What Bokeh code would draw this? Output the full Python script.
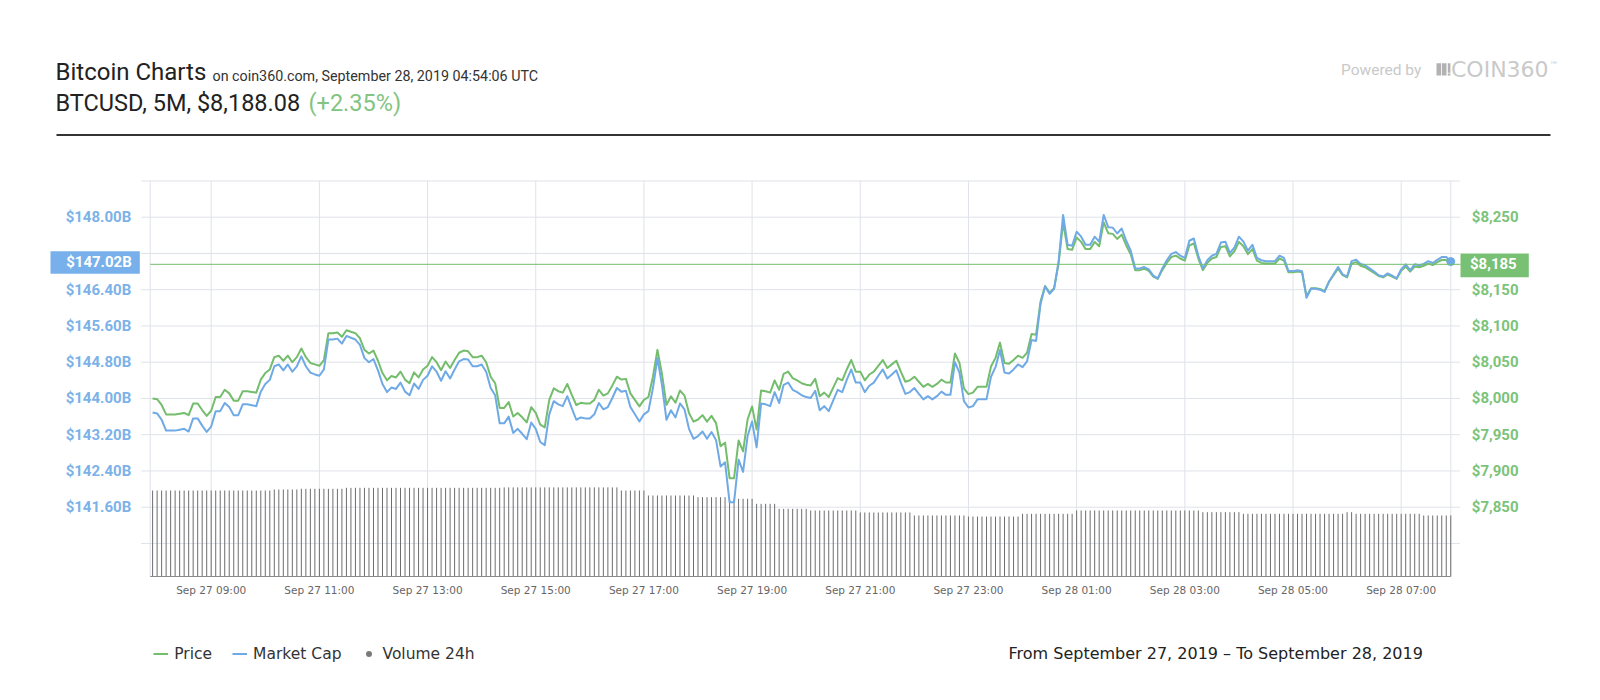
import pandas as pd
from bokeh.plotting import figure
from bokeh.models import (Range1d, Label, BoxAnnotation, Legend, LegendItem,
                          ColumnDataSource)
from bokeh.embed import file_html
from bokeh.resources import INLINE

# ------------------------------------------------------------------ data
first_time = "2019-09-27 07:55"
sample_step = "5min"

price = [
    8000, 7999, 7991, 7978, 7978, 7978, 7979, 7980, 7977, 7993, 7993, 7984,
    7976, 7983, 8002, 8002, 8012, 8007, 7997, 7997, 8010, 8010, 8009, 8008,
    8026, 8035, 8040, 8057, 8059, 8052, 8059, 8050, 8057, 8069, 8057, 8049,
    8047, 8045, 8053, 8090, 8090, 8091, 8085, 8094, 8092, 8090, 8083, 8067,
    8062, 8066, 8052, 8035, 8025, 8031, 8029, 8037, 8026, 8021, 8036, 8029,
    8040, 8045, 8057, 8050, 8039, 8051, 8042, 8053, 8063, 8066, 8065, 8057,
    8057, 8059, 8050, 8030, 8021, 7987, 7987, 7995, 7975, 7980, 7974, 7967,
    7988, 7980, 7964, 7960, 7998, 8014, 8010, 8008, 8020, 8005, 7991, 7994,
    7993, 7993, 7998, 8012, 8004, 8007, 8018, 8030, 8026, 8027, 8007, 7998,
    7989, 7998, 8002, 8030, 8067, 8034, 7991, 8003, 7994, 8011, 8004, 7980,
    7968, 7971, 7977, 7968, 7976, 7966, 7934, 7939, 7890, 7890, 7942, 7927,
    7971, 7989, 7957, 8011, 8010, 8008, 8025, 8012, 8034, 8037, 8028, 8025,
    8021, 8019, 8018, 8027, 8003, 8008, 8002, 8015, 8028, 8025, 8040, 8053,
    8037, 8037, 8025, 8033, 8037, 8045, 8053, 8042, 8047, 8052, 8037, 8023,
    8025, 8030, 8023, 8016, 8020, 8016, 8020, 8026, 8022, 8022, 8062, 8049,
    8014, 8006, 8008, 8016, 8016, 8016, 8044, 8056, 8077, 8049, 8048, 8053,
    8059, 8056, 8063, 8089, 8088, 8134, 8155, 8146, 8152, 8186, 8243, 8206,
    8205, 8222, 8216, 8206, 8206, 8216, 8210, 8243, 8228, 8227, 8220, 8226,
    8211, 8199, 8177, 8177, 8179, 8176, 8168, 8165, 8177, 8187, 8195, 8197,
    8193, 8190, 8211, 8214, 8193, 8177, 8187, 8193, 8195, 8209, 8210, 8196,
    8203, 8216, 8210, 8199, 8206, 8190, 8187, 8186, 8186, 8186, 8193, 8190,
    8174, 8174, 8175, 8174, 8141, 8152, 8152, 8151, 8148, 8161, 8170, 8179,
    8170, 8167, 8186, 8188, 8183, 8181, 8177, 8173, 8169, 8167, 8171, 8168,
    8165, 8176, 8182, 8175, 8182, 8181, 8183, 8186, 8184, 8188, 8191, 8191, 8185,
]

market_cap_b = [
    143.69, 143.67, 143.53, 143.29, 143.29, 143.29, 143.31, 143.33, 143.27, 143.56, 143.56, 143.40,
    143.26, 143.38, 143.72, 143.72, 143.90, 143.81, 143.63, 143.63, 143.87, 143.87, 143.85, 143.83,
    144.15, 144.32, 144.41, 144.71, 144.75, 144.62, 144.75, 144.59, 144.71, 144.93, 144.71, 144.57,
    144.53, 144.50, 144.64, 145.30, 145.30, 145.32, 145.21, 145.38, 145.34, 145.30, 145.18, 144.89,
    144.80, 144.87, 144.62, 144.32, 144.14, 144.24, 144.21, 144.35, 144.15, 144.07, 144.33, 144.21,
    144.41, 144.50, 144.71, 144.59, 144.39, 144.60, 144.44, 144.64, 144.82, 144.87, 144.86, 144.71,
    144.71, 144.75, 144.59, 144.23, 144.07, 143.45, 143.45, 143.60, 143.24, 143.33, 143.22, 143.10,
    143.47, 143.33, 143.04, 142.97, 143.65, 143.94, 143.87, 143.83, 144.05, 143.78, 143.53, 143.58,
    143.56, 143.56, 143.65, 143.90, 143.76, 143.81, 144.01, 144.23, 144.15, 144.17, 143.81, 143.65,
    143.49, 143.65, 143.72, 144.23, 144.89, 144.30, 143.53, 143.74, 143.58, 143.89, 143.76, 143.33,
    143.11, 143.17, 143.27, 143.11, 143.26, 143.08, 142.50, 142.59, 141.71, 141.71, 142.65, 142.38,
    143.17, 143.49, 142.92, 143.89, 143.87, 143.83, 144.14, 143.90, 144.30, 144.35, 144.19, 144.14,
    144.07, 144.03, 144.01, 144.17, 143.74, 143.83, 143.72, 143.96, 144.19, 144.14, 144.41, 144.64,
    144.35, 144.35, 144.14, 144.28, 144.35, 144.50, 144.64, 144.44, 144.53, 144.62, 144.35, 144.10,
    144.14, 144.23, 144.10, 143.98, 144.05, 143.98, 144.05, 144.15, 144.08, 144.08, 144.80, 144.57,
    143.94, 143.80, 143.83, 143.98, 143.98, 143.98, 144.48, 144.69, 145.07, 144.57, 144.55, 144.64,
    144.75, 144.69, 144.82, 145.29, 145.27, 146.09, 146.47, 146.31, 146.42, 147.03, 148.05, 147.39,
    147.37, 147.68, 147.57, 147.39, 147.39, 147.57, 147.46, 148.05, 147.78, 147.77, 147.64, 147.75,
    147.48, 147.26, 146.87, 146.87, 146.90, 146.85, 146.71, 146.65, 146.87, 147.05, 147.19, 147.23,
    147.15, 147.10, 147.48, 147.53, 147.15, 146.87, 147.05, 147.15, 147.19, 147.44, 147.46, 147.21,
    147.33, 147.57, 147.46, 147.26, 147.39, 147.10, 147.05, 147.03, 147.03, 147.03, 147.15, 147.10,
    146.81, 146.81, 146.83, 146.81, 146.22, 146.42, 146.42, 146.40, 146.35, 146.58, 146.74, 146.90,
    146.74, 146.69, 147.03, 147.06, 146.97, 146.94, 146.87, 146.80, 146.72, 146.69, 146.76, 146.71,
    146.65, 146.85, 146.96, 146.83, 146.96, 146.94, 146.97, 147.03, 146.99, 147.06, 147.12, 147.12, 147.02,
]

volume_24h_b = [
    14.33, 14.33, 14.33, 14.33, 14.33, 14.33, 14.33, 14.33, 14.33, 14.33, 14.33, 14.33, 14.33, 14.33,
    14.33, 14.33, 14.33, 14.33, 14.33, 14.33, 14.33, 14.33, 14.33, 14.33, 14.33, 14.33, 14.33,
    14.50, 14.50, 14.50, 14.50, 14.50, 14.50,
    14.62, 14.62, 14.62, 14.62, 14.62, 14.62, 14.62, 14.62, 14.62, 14.62,
    14.78, 14.78, 14.78, 14.78, 14.78, 14.78, 14.78, 14.78, 14.78, 14.78, 14.78, 14.78,
    14.78, 14.78, 14.78, 14.78, 14.78, 14.78, 14.78, 14.78, 14.78, 14.78, 14.78, 14.78,
    14.78, 14.78, 14.78, 14.78, 14.78, 14.78, 14.78, 14.78, 14.78, 14.78, 14.78,
    14.85, 14.85, 14.85, 14.85, 14.85, 14.85, 14.85, 14.85, 14.85, 14.85, 14.85, 14.85, 14.85,
    14.85, 14.85, 14.85, 14.85, 14.85, 14.85, 14.85, 14.85, 14.85, 14.85, 14.85, 14.85, 14.85,
    14.33, 14.33, 14.33, 14.33, 14.33, 14.33,
    13.50, 13.50, 13.50, 13.50, 13.50, 13.50, 13.50, 13.50, 13.50, 13.50, 13.50,
    13.22, 13.22, 13.22, 13.22, 13.22, 13.22, 13.22,
    12.95, 12.95, 12.95, 12.95, 12.95, 12.95,
    12.11, 12.11, 12.11, 12.11, 12.11,
    11.28, 11.28, 11.28, 11.28, 11.28, 11.28, 11.28,
    11.00, 11.00, 11.00, 11.00, 11.00, 11.00, 11.00, 11.00, 11.00, 11.00, 11.00,
    10.67, 10.67, 10.67, 10.67, 10.67, 10.67, 10.67, 10.67, 10.67, 10.67, 10.67, 10.67,
    10.17, 10.17, 10.17, 10.17, 10.17, 10.17, 10.17, 10.17, 10.17, 10.17, 10.17, 10.17,
    10.00, 10.00, 10.00, 10.00, 10.00, 10.00, 10.00, 10.00, 10.00, 10.00, 10.00, 10.00,
    10.45, 10.45, 10.45, 10.45, 10.45, 10.45, 10.45, 10.45, 10.45, 10.45, 10.45, 10.45,
    11.00, 11.00, 11.00, 11.00, 11.00, 11.00, 11.00, 11.00, 11.00, 11.00, 11.00, 11.00, 11.00, 11.00,
    11.00, 11.00, 11.00, 11.00, 11.00, 11.00, 11.00, 11.00, 11.00, 11.00, 11.00, 11.00, 11.00, 11.00,
    10.72, 10.72, 10.72, 10.72, 10.72, 10.72, 10.72, 10.72, 10.72,
    10.45, 10.45, 10.45, 10.45, 10.45, 10.45, 10.45, 10.45, 10.45, 10.45, 10.45, 10.45,
    10.45, 10.45, 10.45, 10.45, 10.45, 10.45, 10.45, 10.45, 10.45, 10.45, 10.45,
    10.72, 10.72,
    10.45, 10.45, 10.45, 10.45, 10.45, 10.45, 10.45, 10.45, 10.45, 10.45, 10.45, 10.45, 10.45, 10.45, 10.45,
    10.17, 10.17, 10.17, 10.17, 10.17, 10.17, 10.17,
]

x_tick_labels = ["Sep 27 09:00", "Sep 27 11:00", "Sep 27 13:00", "Sep 27 15:00",
                 "Sep 27 17:00", "Sep 27 19:00", "Sep 27 21:00", "Sep 27 23:00",
                 "Sep 28 01:00", "Sep 28 03:00", "Sep 28 05:00", "Sep 28 07:00"]
mc_ticks = [140.8, 141.6, 142.4, 143.2, 144.0, 144.8, 145.6, 146.4, 147.2, 148.0, 148.8]
mc_tick_labels = ["", "$141.60B", "$142.40B", "$143.20B", "$144.00B", "$144.80B",
                  "$145.60B", "$146.40B", "", "$148.00B", ""]
price_ticks = [7800, 7850, 7900, 7950, 8000, 8050, 8100, 8150, 8200, 8250, 8300]
price_tick_labels = ["", "$7,850", "$7,900", "$7,950", "$8,000", "$8,050",
                     "$8,100", "$8,150", "", "$8,250", ""]
current_price = 8185
current_price_text = "$8,185"
current_mc = 147.02
current_mc_text = "$147.02B"

title_text = "Bitcoin Charts"
subtitle_text = "on coin360.com, September 28, 2019 04:54:06 UTC"
pair_text = "BTCUSD, 5M, $8,188.08"
change_text = "(+2.35%)"
range_text = "From September 27, 2019 \u2013 To September 28, 2019"
series_names = ["Price", "Market Cap", "Volume 24h"]

# ------------------------------------------------------------------ style / layout
GREEN_LINE = "#74bd6c"
BLUE_LINE = "#6faae6"
GREEN_TEXT = "#7cc37a"
BLUE_TEXT = "#7cb2e8"
BADGE_BLUE = "#77b0ea"
BADGE_GREEN = "#78c074"
GRID = "#dfe2e9"
VOL_COLOR = "#6e6e6e"
LOGO_GRAY = "#c9c9c9"

W, H = 1600, 700
PL, PR, PT, PB = 149.7, 1450.3, 180.45, 576.0   # plot area in canvas pixels
PX_PER_MIN = 0.9015                             # horizontal scale
ANCHOR_PX = 210.7                               # pixel of the first x tick
PX_PER_B = 36.25 / 0.8                          # vertical scale (market cap)
TICK_LEN = 9

tick_times = pd.to_datetime(["2019 " + s for s in x_tick_labels], format="%Y %b %d %H:%M")
tick_ms = [t.value / 1e6 for t in tick_times]
times = pd.date_range(first_time, periods=len(price), freq=sample_step)
t_ms = [t.value / 1e6 for t in times]

def px_to_ms(px):
    return tick_ms[0] + (px - ANCHOR_PX) / PX_PER_MIN * 60000.0

def py_to_mc(py):
    return mc_ticks[-1] - (py - PT) / PX_PER_B

def mc_to_price(v):
    return 7850 + (v - 141.6) * 62.5

p = figure(width=W, height=H, output_backend="svg", toolbar_location=None,
           x_axis_location=None, y_axis_location=None,
           x_range=Range1d(px_to_ms(0), px_to_ms(W)),
           y_range=Range1d(py_to_mc(H), py_to_mc(0)),
           min_border=0, min_border_left=0, min_border_right=0,
           min_border_top=0, min_border_bottom=0)
p.extra_y_ranges = {"price": Range1d(mc_to_price(py_to_mc(H)), mc_to_price(py_to_mc(0))),
                    "vol": Range1d(-(H - PB) / 6.0, PB / 6.0)}
p.background_fill_color = "white"
p.border_fill_color = "white"
p.outline_line_color = None
p.xgrid.visible = False
p.ygrid.visible = False

x_left, x_right = px_to_ms(PL), px_to_ms(PR)
mc_bottom, mc_top = py_to_mc(PB), py_to_mc(PT)

# grid: horizontal lines (with the short outer ticks), vertical lines, plot edges
n_mc = len(mc_ticks)
p.segment(x0=[px_to_ms(PL - TICK_LEN)] * n_mc, x1=[px_to_ms(PR + TICK_LEN)] * n_mc,
          y0=mc_ticks, y1=mc_ticks, line_color=GRID, line_width=1)
p.segment(x0=tick_ms + [x_left, x_right], x1=tick_ms + [x_left, x_right],
          y0=[mc_bottom] * (len(tick_ms) + 2), y1=[mc_top] * (len(tick_ms) + 2),
          line_color=GRID, line_width=1)

# ------------------------------------------------------------------ series
src = ColumnDataSource(dict(t=t_ms, price=price, mc=market_cap_b, vol=volume_24h_b,
                            base=[0.0] * len(volume_24h_b)))
p.segment(x0="t", y0="base", x1="t", y1="vol", source=src, y_range_name="vol",
          line_color=VOL_COLOR, line_width=1)
# volume markers (zero size on the chart, used for the legend's dot symbol)
r_vdot = p.scatter("t", "vol", source=src, y_range_name="vol", size=0,
                   fill_color="#7a7a7a", line_color=None)
# x axis line
p.segment(x0=[x_left], x1=[x_right], y0=[mc_bottom], y1=[mc_bottom],
          line_color="#8a8a8a", line_width=1)
r_price = p.line("t", "price", source=src, y_range_name="price", line_color=GREEN_LINE,
                 line_width=2, line_join="round")
r_mc = p.line("t", "mc", source=src, line_color=BLUE_LINE, line_width=2, line_join="round")
p.scatter(x=[t_ms[-1]], y=[market_cap_b[-1]], size=8, fill_color=BLUE_LINE,
          line_color=BLUE_LINE)

# current price line
p.segment(x0=[x_left], x1=[px_to_ms(1460)], y0=[current_price], y1=[current_price],
          y_range_name="price", line_color=GREEN_LINE, line_width=1)

# ------------------------------------------------------------------ texts
def txt(text, X, Y, size, color, font="Roboto", style="normal", align="left",
        baseline="middle"):
    p.add_layout(Label(x=X, y=H - Y, x_units="screen", y_units="screen", text=text,
                       text_font=font, text_font_size=f"{size}px", text_font_style=style,
                       text_color=color, text_align=align, text_baseline=baseline))

def box(X0, Y0, X1, Y1, color):
    p.add_layout(BoxAnnotation(left=X0, right=X1, top=H - Y0, bottom=H - Y1,
                               left_units="screen", right_units="screen",
                               top_units="screen", bottom_units="screen",
                               fill_color=color, fill_alpha=1.0, line_color=None))

# axis tick labels
for v, lab in zip(mc_ticks, mc_tick_labels):
    if lab:
        p.add_layout(Label(x=PL - TICK_LEN - 10, x_units="screen", y=v, y_units="data",
                           text=lab, text_font="Roboto", text_font_style="bold",
                           text_font_size="15px", text_color=BLUE_TEXT,
                           text_align="right", text_baseline="middle"))
for v, lab in zip(price_ticks, price_tick_labels):
    if lab:
        p.add_layout(Label(x=PR + TICK_LEN + 12, x_units="screen", y=v, y_units="data",
                           y_range_name="price", text=lab, text_font="Roboto",
                           text_font_style="bold", text_font_size="15px",
                           text_color=GREEN_TEXT, text_align="left", text_baseline="middle"))
for ms, lab in zip(tick_ms, x_tick_labels):
    p.add_layout(Label(x=ms, x_units="data", y=H - 589.3, y_units="screen", text=lab,
                       text_font="DejaVu Sans", text_font_size="10.5px",
                       text_color="#666666", text_align="center", text_baseline="middle"))

# header
txt(title_text, 55, 71.5, 24, "#222222")
txt(subtitle_text, 212, 75.5, 14.3, "#333333")
txt(pair_text, 55, 102.4, 23.5, "#222222")
txt(change_text, 308, 102.4, 23.5, "#82c482")
box(56, 133.5, 1550, 135.5, "#333333")

# powered by logo
txt("Powered by", 1340.5, 69.5, 15.5, LOGO_GRAY)
box(1436, 62.7, 1440.6, 75, "#b2b2b2")
box(1441.4, 62.7, 1446, 75, "#b2b2b2")
box(1447.3, 62.7, 1449.9, 72.2, "#b2b2b2")
box(1447.3, 73, 1449.9, 75, "#b2b2b2")
txt("COIN360", 1450.5, 69, 22, LOGO_GRAY, font="DejaVu Sans")
txt("\u2122", 1549, 64.5, 9, LOGO_GRAY, font="DejaVu Sans")

# current value badges
box(50, 250.7, 139.3, 273.3, BADGE_BLUE)
p.add_layout(Label(x=65.7, x_units="screen", y=current_mc, y_units="data",
                   text=current_mc_text, text_font="Roboto", text_font_style="bold",
                   text_font_size="15px", text_color="white", text_baseline="middle"))
box(1460, 253, 1528.3, 276.7, BADGE_GREEN)
p.add_layout(Label(x=1469.5, x_units="screen", y=current_price, y_units="data",
                   y_range_name="price", text=current_price_text, text_font="Roboto",
                   text_font_style="bold", text_font_size="15px", text_color="white",
                   text_baseline="middle"))

# date range
txt(range_text, 1008, 652.7, 16, "#222222", font="DejaVu Sans")

# legend
legend = Legend(items=[LegendItem(label=series_names[0], renderers=[r_price]),
                       LegendItem(label=series_names[1], renderers=[r_mc]),
                       LegendItem(label=series_names[2], renderers=[r_vdot])],
                location=(153.3, H - 662.5), orientation="horizontal",
                glyph_width=15, glyph_height=15, label_height=15, label_standoff=6,
                spacing=20, padding=0, margin=0, border_line_color=None,
                background_fill_alpha=0, label_text_font="DejaVu Sans",
                label_text_font_size="15.5px", label_text_color="#333333")
p.add_layout(legend, "center")

open("out.html", "w").write(file_html(p, INLINE))
